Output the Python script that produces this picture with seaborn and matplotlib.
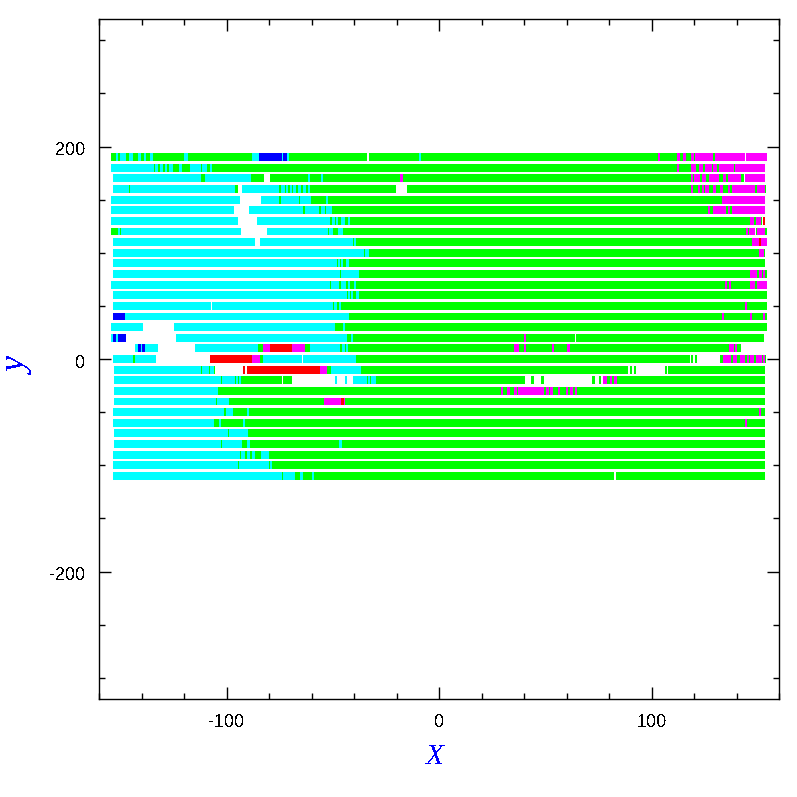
import pandas as pd
import matplotlib
matplotlib.use("Agg")
import matplotlib.pyplot as plt
from matplotlib.ticker import MultipleLocator
from matplotlib.transforms import ScaledTranslation
import seaborn as sns

# each row: (x where the run starts, kind), kind "w" = nothing plotted / end of row
row_y = list(range(190, -120, -10))

row_p190 = [(-153.9,"g"),(-152,"c"),(-151.3,"g"),(-149.8,"c"),(-147.3,"g"),(-145.7,"c"),(-144.1,"g"),(-141.5,"c"),(-140.4,"g"),(-138.8,"c"),(-138,"g"),(-136,"c"),(-135,"g"),(-120,"c"),(-118.4,"g"),(-88,"c"),(-84.7,"b"),(-73.9,"c"),(-73.4,"b"),(-72.9,"c"),(-72.4,"b"),(-72.1,"c"),(-71,"g"),(-33.9,"w"),(-32.5,"g"),(-9.4,"c"),(-8.5,"g"),(103.1,"m"),(103.6,"g"),(112,"m"),(113,"g"),(115,"m"),(115.8,"g"),(118.6,"m"),(119.8,"g"),(120.5,"m"),(126.7,"g"),(127.5,"m"),(128.5,"g"),(129.9,"m"),(144,"w"),(144.5,"m"),(153.9,"w")]
row_p180 = [(-153.9,"c"),(-153.4,"g"),(-152.9,"c"),(-148.7,"g"),(-148.2,"c"),(-136.3,"g"),(-135.8,"c"),(-134.4,"g"),(-133.5,"c"),(-132.5,"g"),(-131.1,"c"),(-130.3,"g"),(-128.8,"c"),(-128.3,"g"),(-126.6,"c"),(-125.6,"g"),(-121.9,"c"),(-121.4,"g"),(-117.1,"c"),(-116.2,"g"),(-115.6,"c"),(-114.8,"g"),(-114.3,"c"),(-113.4,"g"),(-112.9,"c"),(-112,"g"),(-111.5,"c"),(-110.5,"g"),(-110,"c"),(-109.3,"g"),(-107.7,"c"),(-107.3,"g"),(112,"m"),(112.5,"g"),(118.9,"m"),(120.5,"g"),(122.4,"m"),(123.8,"g"),(125.2,"m"),(126.6,"g"),(127.2,"m"),(128.2,"g"),(129.4,"m"),(130.4,"g"),(131.8,"m"),(133.2,"g"),(133.6,"m"),(135.7,"g"),(136,"m"),(138.8,"g"),(139.3,"m"),(153.4,"w")]
row_p170 = [(-153.4,"c"),(-137.4,"g"),(-136.9,"c"),(-119.5,"g"),(-119,"c"),(-112,"g"),(-110.1,"c"),(-108.7,"g"),(-108.2,"c"),(-97.4,"g"),(-96.8,"c"),(-92.2,"g"),(-91.3,"c"),(-88.9,"g"),(-82.8,"w"),(-79.5,"g"),(-61.6,"c"),(-61.1,"g"),(-55.5,"c"),(-55,"g"),(-17.9,"m"),(-17.4,"g"),(118.6,"m"),(119.1,"g"),(120,"m"),(120.5,"g"),(121.4,"m"),(122.8,"g"),(123.8,"m"),(125.6,"g"),(127.2,"m"),(128.5,"g"),(129.4,"m"),(130.4,"g"),(130.7,"m"),(131.3,"g"),(134.1,"m"),(135,"g"),(136,"m"),(136.6,"g"),(136.9,"m"),(139.3,"g"),(139.8,"m"),(140.3,"g"),(140.7,"m"),(141.2,"g"),(141.6,"m"),(142.1,"g"),(143.5,"w"),(144,"m"),(147.8,"g"),(148.2,"m"),(153.4,"w")]
row_p160 = [(-153.4,"c"),(-146.3,"g"),(-145.4,"c"),(-96.4,"g"),(-95,"w"),(-92.7,"c"),(-86.1,"g"),(-85.6,"c"),(-83.7,"g"),(-83.2,"c"),(-82.8,"g"),(-82.3,"c"),(-79.5,"g"),(-79,"c"),(-75.3,"g"),(-74.3,"c"),(-73.9,"g"),(-73.4,"c"),(-72.9,"g"),(-72,"c"),(-71.5,"g"),(-70.1,"c"),(-69.6,"g"),(-68.7,"c"),(-67.7,"g"),(-65.9,"c"),(-65.4,"g"),(-64,"c"),(-63,"g"),(-61.6,"c"),(-61.1,"g"),(-20.7,"w"),(-14.6,"g"),(118.6,"m"),(119.1,"g"),(121.9,"m"),(122.4,"g"),(124.2,"m"),(124.7,"g"),(125.2,"m"),(125.7,"g"),(126.1,"m"),(126.6,"g"),(129.4,"m"),(129.9,"g"),(132.7,"m"),(133.6,"g"),(136,"m"),(136.9,"g"),(137.9,"m"),(148.7,"g"),(149.7,"m"),(153,"g"),(153.4,"w")]
row_p150 = [(-153.9,"c"),(-94.1,"w"),(-83.7,"c"),(-75.3,"g"),(-74.3,"c"),(-73.9,"g"),(-73.4,"c"),(-70.1,"g"),(-69.6,"c"),(-65.9,"g"),(-65,"c"),(-62.5,"g"),(-62,"c"),(-60.7,"g"),(-53.1,"c"),(-52.6,"g"),(133.6,"m"),(134.6,"g"),(135,"m"),(136.9,"g"),(137.4,"m"),(139.8,"g"),(140.2,"m"),(151,"g"),(151.5,"m"),(153.4,"w")]
row_p140 = [(-153.9,"c"),(-96.9,"w"),(-89.4,"c"),(-64,"g"),(-63,"c"),(-60.2,"g"),(-59.3,"c"),(-56.9,"g"),(-55.5,"c"),(-54.1,"g"),(-53.1,"c"),(-52.2,"g"),(-51.3,"c"),(-50.8,"g"),(127,"m"),(127.5,"g"),(129.4,"m"),(129.9,"g"),(130.8,"m"),(131.8,"g"),(132.2,"m"),(133.2,"g"),(134.1,"m"),(135,"g"),(136,"m"),(136.9,"g"),(137.9,"m"),(153.4,"w")]
row_p130 = [(-153.9,"c"),(-94.6,"w"),(-85.2,"c"),(-51.7,"g"),(-50.3,"c"),(-49.4,"g"),(-48.4,"c"),(-48,"g"),(-45.7,"c"),(-44.7,"g"),(-42.8,"c"),(-42.3,"g"),(146.8,"m"),(147.8,"g"),(149.2,"m"),(150.6,"g"),(151,"m"),(151.5,"g"),(152,"w"),(152.9,"r"),(153.4,"w")]
row_p120 = [(-153.9,"g"),(-151,"c"),(-150.6,"g"),(-149.6,"c"),(-93.6,"w"),(-80.9,"c"),(-52.7,"g"),(-51.7,"c"),(-49.9,"g"),(-47.5,"c"),(-45.2,"g"),(-44.2,"g"),(144.9,"m"),(145.4,"g"),(145.9,"m"),(146.4,"g"),(146.8,"m"),(148.7,"w"),(149.6,"g"),(150.1,"m"),(150.6,"g"),(151.5,"m"),(153.4,"g"),(153.9,"w")]
row_p110 = [(-153.4,"c"),(-86.6,"w"),(-84.2,"c"),(-40.5,"g"),(-40,"c"),(-39.5,"g"),(147.3,"m"),(149.2,"g"),(149.7,"m"),(150.2,"g"),(150.6,"r"),(151,"m"),(153.9,"w")]
row_p100 = [(-153.4,"c"),(-43.8,"g"),(-43.3,"c"),(-42.4,"g"),(-41.9,"c"),(-39.5,"g"),(-39,"c"),(-38.6,"g"),(-38.1,"c"),(-37.7,"g"),(-37.2,"c"),(-36.7,"g"),(-36.2,"c"),(-35.8,"g"),(-34.8,"c"),(-34.4,"g"),(-33.9,"c"),(-33,"g"),(151,"m"),(152.5,"g"),(153.4,"w")]
row_p90 = [(-153.4,"c"),(-48.4,"g"),(-47.5,"c"),(-47,"g"),(-46.1,"c"),(-45.6,"g"),(-43.3,"c"),(-42.8,"g"),(153.4,"w")]
row_p80 = [(-153.4,"c"),(-46.6,"g"),(-46.1,"c"),(-44.7,"g"),(-44.2,"c"),(-42.8,"g"),(-41.9,"c"),(-39.1,"g"),(-38.6,"c"),(-38.1,"g"),(146.8,"m"),(147.8,"g"),(148.2,"m"),(149.6,"g"),(150.6,"m"),(151.1,"g"),(151.5,"m"),(152,"g"),(152.5,"m"),(153.4,"g"),(153.9,"w")]
row_p70 = [(-153.9,"c"),(-51.3,"g"),(-50.8,"c"),(-49.4,"g"),(-48.9,"c"),(-47.5,"g"),(-46.1,"c"),(-43.8,"g"),(-42.4,"c"),(-41.9,"g"),(-40,"c"),(-39.5,"g"),(134.6,"m"),(135.5,"g"),(136.5,"m"),(137.4,"g"),(146.8,"m"),(148.7,"g"),(149.6,"w"),(150.1,"m"),(153.9,"w")]
row_p60 = [(-153.4,"c"),(-43.3,"g"),(-42.4,"c"),(-41.9,"g"),(-41,"c"),(-40.5,"g"),(-38.6,"c"),(-38.1,"g"),(153.9,"w")]
row_p50 = [(-153.4,"c"),(-107.3,"w"),(-106.8,"c"),(-50.3,"g"),(-49.4,"c"),(-48.4,"g"),(-47,"c"),(-46.6,"g"),(144,"m"),(144.5,"g"),(153.9,"w")]
row_p40 = [(-153.4,"b"),(-148.2,"c"),(-42.8,"g"),(133.6,"m"),(134.1,"g"),(146.4,"m"),(146.9,"g"),(152.9,"m"),(153.4,"g"),(153.9,"w")]
row_p30 = [(-153.9,"c"),(-139.3,"w"),(-124.7,"c"),(-51.7,"g"),(-51.2,"c"),(-50.8,"g"),(-50.3,"c"),(-49.4,"g"),(-45.1,"c"),(-44.6,"g"),(153.9,"w")]
row_p20 = [(-153.9,"c"),(-153.4,"b"),(-152,"c"),(-150.6,"b"),(-150.1,"c"),(-149.6,"b"),(-147.3,"w"),(-123.7,"c"),(-43.3,"g"),(-41.4,"c"),(-41,"g"),(40,"m"),(40.5,"g"),(64,"w"),(64.9,"g"),(152.9,"w")]
row_p10 = [(-142.6,"c"),(-141.2,"b"),(-140.7,"c"),(-139.7,"b"),(-138.8,"c"),(-132.7,"w"),(-114.8,"c"),(-85.2,"g"),(-82.8,"m"),(-79.5,"r"),(-69.6,"m"),(-63.5,"g"),(-60.7,"c"),(-46.6,"g"),(-45.6,"c"),(-44.7,"g"),(-43.7,"c"),(-43.3,"g"),(35.7,"m"),(36.2,"g"),(36.7,"m"),(37.2,"g"),(40,"m"),(40.5,"g"),(53.2,"m"),(53.7,"g"),(60.7,"m"),(61.2,"g"),(136.9,"m"),(138.8,"g"),(139.3,"m"),(140.2,"g"),(141.7,"w")]
row_0 = [(-153.4,"c"),(-144,"g"),(-143,"c"),(-133.6,"w"),(-107.7,"r"),(-88,"m"),(-84.7,"g"),(-82.8,"c"),(-64.9,"w"),(-64,"c"),(-40.4,"g"),(-40,"c"),(-39.5,"g"),(118.1,"w"),(118.6,"g"),(119.1,"w"),(120.5,"g"),(121,"w"),(132.7,"g"),(134.1,"m"),(134.6,"g"),(135,"m"),(137,"g"),(138.4,"m"),(138.9,"g"),(139.3,"m"),(139.8,"g"),(142.1,"m"),(142.6,"g"),(143.5,"m"),(144,"g"),(145,"m"),(145.5,"g"),(146.8,"m"),(147.8,"g"),(149.2,"m"),(150.6,"g"),(151,"m"),(152,"g"),(152.5,"m"),(153,"g"),(153.4,"w")]
row_n10 = [(-152.9,"c"),(-113.4,"g"),(-112.9,"c"),(-112.4,"g"),(-111.5,"c"),(-110.1,"g"),(-109.6,"c"),(-108.7,"g"),(-107.7,"c"),(-106.3,"g"),(-105.8,"w"),(-92.2,"r"),(-91.7,"w"),(-90.3,"r"),(-56,"m"),(-53.1,"g"),(-50.8,"c"),(-39.5,"g"),(-39,"c"),(-38.6,"g"),(-38.1,"c"),(-37.1,"g"),(88.9,"w"),(89.9,"g"),(90.8,"w"),(92.2,"g"),(92.7,"w"),(106.4,"g"),(106.9,"w"),(108.2,"g"),(153.4,"w")]
row_n20 = [(-152.9,"c"),(-102.6,"g"),(-102.1,"c"),(-98.3,"g"),(-97.8,"c"),(-97.4,"g"),(-96.9,"c"),(-96,"g"),(-95.5,"c"),(-95,"g"),(-94.1,"c"),(-93.6,"g"),(-73.9,"w"),(-73.4,"g"),(-71.5,"w"),(-70.6,"g"),(-69.2,"w"),(-48.9,"c"),(-48.4,"w"),(-44.2,"c"),(-43.3,"w"),(-40.4,"c"),(-33.9,"g"),(-33.4,"c"),(-32.5,"g"),(-32,"c"),(-31.5,"g"),(-31,"c"),(-29.7,"g"),(40.4,"w"),(43.7,"g"),(44.7,"w"),(48.4,"g"),(49.4,"w"),(72.4,"g"),(73.4,"w"),(75.3,"g"),(76.2,"w"),(77.6,"m"),(78.6,"g"),(80.9,"m"),(81.4,"g"),(82.8,"m"),(83.3,"g"),(153.4,"w")]
row_n30 = [(-152.9,"c"),(-105.4,"g"),(-104.9,"c"),(-104.4,"g"),(29.2,"m"),(29.7,"g"),(32,"m"),(33.4,"g"),(35.7,"m"),(36.7,"g"),(37.6,"m"),(49.4,"g"),(50.8,"m"),(51.7,"g"),(52.7,"m"),(53.2,"g"),(56,"m"),(56.9,"g"),(60.2,"m"),(60.7,"g"),(62.1,"m"),(63,"g"),(64.4,"m"),(64.9,"g"),(153.4,"w")]
row_n40 = [(-152.9,"c"),(-106.8,"g"),(-106.3,"c"),(-105.4,"g"),(-104.4,"c"),(-102.1,"g"),(-101.6,"c"),(-100.2,"g"),(-99.7,"c"),(-99.3,"g"),(-54.1,"m"),(-46.1,"r"),(-45.1,"m"),(-44.6,"g"),(153.4,"w")]
row_n50 = [(-153.4,"c"),(-108.2,"g"),(-107.3,"c"),(-103.5,"g"),(-103,"c"),(-101.6,"g"),(-100.2,"c"),(-98.3,"g"),(-97.8,"c"),(-97.4,"g"),(-90.3,"c"),(-89.8,"g"),(151,"m"),(151.5,"g"),(153.4,"w")]
row_n60 = [(-153.4,"c"),(-109.6,"g"),(-109.1,"c"),(-108.2,"g"),(-107.3,"c"),(-106.3,"g"),(-103.5,"c"),(-103,"g"),(-92.2,"c"),(-91.7,"g"),(144.2,"m"),(144.7,"g"),(153.4,"w")]
row_n70 = [(-152.9,"c"),(-104.9,"g"),(-104.4,"c"),(-99.7,"g"),(-98.8,"c"),(-97.4,"g"),(-96.9,"c"),(-96.4,"g"),(-95.9,"c"),(-95,"g"),(-94.5,"c"),(-93.6,"g"),(-93.1,"c"),(-92.2,"g"),(-91.7,"c"),(-91.3,"g"),(-90.8,"c"),(-90.3,"g"),(153.4,"w")]
row_n80 = [(-152.9,"c"),(-105.4,"g"),(-104.9,"c"),(-102.6,"g"),(-102.1,"c"),(-100.7,"g"),(-100.2,"c"),(-98.8,"g"),(-97.9,"c"),(-96.4,"g"),(-95.9,"c"),(-95,"g"),(-94.5,"c"),(-93.1,"g"),(-90.3,"c"),(-89.4,"g"),(-88.9,"g"),(-46.6,"c"),(-46.1,"g"),(153.4,"w")]
row_n90 = [(-153.4,"c"),(-94.1,"g"),(-93.1,"c"),(-91.3,"g"),(-89.9,"c"),(-89.4,"g"),(-88,"c"),(-86.6,"g"),(-83.7,"c"),(-82.8,"g"),(-82.3,"c"),(-80,"g"),(153.4,"w")]
row_n100 = [(-153.4,"c"),(-94.6,"g"),(-94.1,"c"),(-90.8,"g"),(-90.3,"c"),(-80,"g"),(-79.5,"c"),(-78.6,"g"),(153.4,"w")]
row_n110 = [(-153.4,"c"),(-76.2,"g"),(-75.3,"c"),(-73.9,"g"),(-73,"c"),(-71.1,"g"),(-70.6,"c"),(-69.6,"g"),(-69.1,"c"),(-68.2,"g"),(-65.4,"c"),(-64.4,"g"),(-59.7,"c"),(-59.3,"g"),(82.3,"w"),(83.3,"g"),(153.4,"w")]

all_rows = [row_p190, row_p180, row_p170, row_p160, row_p150, row_p140, row_p130, row_p120,
            row_p110, row_p100, row_p90, row_p80, row_p70, row_p60, row_p50, row_p40,
            row_p30, row_p20, row_p10, row_0, row_n10, row_n20, row_n30, row_n40,
            row_n50, row_n60, row_n70, row_n80, row_n90, row_n100, row_n110]

kind_colors = {"g": "#00ff00", "c": "#00ffff", "m": "#ff00ff", "r": "#ff0000", "b": "#0000ff"}
min_run = 0.5  # under one pixel the run would vanish

# long table: two points per run, one unit per run
records = []
seg = 0
for y, row in zip(row_y, all_rows):
    for (x0, kind), (x1, _) in zip(row[:-1], row[1:]):
        if kind == "w":
            continue
        records.append({"x": x0, "y": y, "kind": kind, "seg": seg})
        records.append({"x": max(x1, x0 + min_run), "y": y, "kind": kind, "seg": seg})
        seg += 1
df = pd.DataFrame(records)

sns.set_style("ticks")
plt.rcParams["font.family"] = ["Liberation Sans", "DejaVu Sans"]
plt.rcParams["text.antialiased"] = False
plt.rcParams["axes.unicode_minus"] = False

fig = plt.figure(figsize=(7.97, 7.97), dpi=100)
ax = fig.add_axes([99 / 797, 98 / 797, 680 / 797, 680 / 797])

# thin runs go on top of green, so green is listed first
sns.lineplot(data=df, x="x", y="y", hue="kind", hue_order=list(kind_colors), units="seg",
             estimator=None, sort=False, palette=kind_colors, legend=False, ax=ax,
             linewidth=5.04, solid_capstyle="butt", antialiased=False, snap=False)

ax.set_xlim(-160, 160)
ax.set_ylim(-320, 320)
ax.xaxis.set_major_locator(MultipleLocator(100))
ax.xaxis.set_minor_locator(MultipleLocator(20))
ax.yaxis.set_major_locator(MultipleLocator(200))
ax.yaxis.set_minor_locator(MultipleLocator(50))
ax.tick_params(which="both", direction="in", top=True, right=True, width=1.0, color="black")
ax.tick_params(which="major", length=8.6, labelsize=13, labelcolor="black")
ax.tick_params(which="minor", length=4.3)
ax.tick_params(axis="x", which="major", pad=10.5)
ax.tick_params(axis="y", which="major", pad=10)
for side in ax.spines.values():
    side.set_linewidth(1.0)
    side.set_color("black")

# y tick labels sit a little below their ticks
nudge = ScaledTranslation(0, -2 / 100, fig.dpi_scale_trans)
for lab in ax.get_yticklabels():
    lab.set_transform(lab.get_transform() + nudge)

label_font = dict(family="Liberation Serif", style="italic", color="#0000ff")
ax.set_xlabel("X", fontsize=21, **label_font)
ax.set_ylabel("y", fontsize=26, **label_font)
ax.xaxis.set_label_coords(0.494, -0.066)
ax.yaxis.set_label_coords(-0.094, 0.49)

fig.savefig("out.png", dpi=100)
plt.close(fig)
